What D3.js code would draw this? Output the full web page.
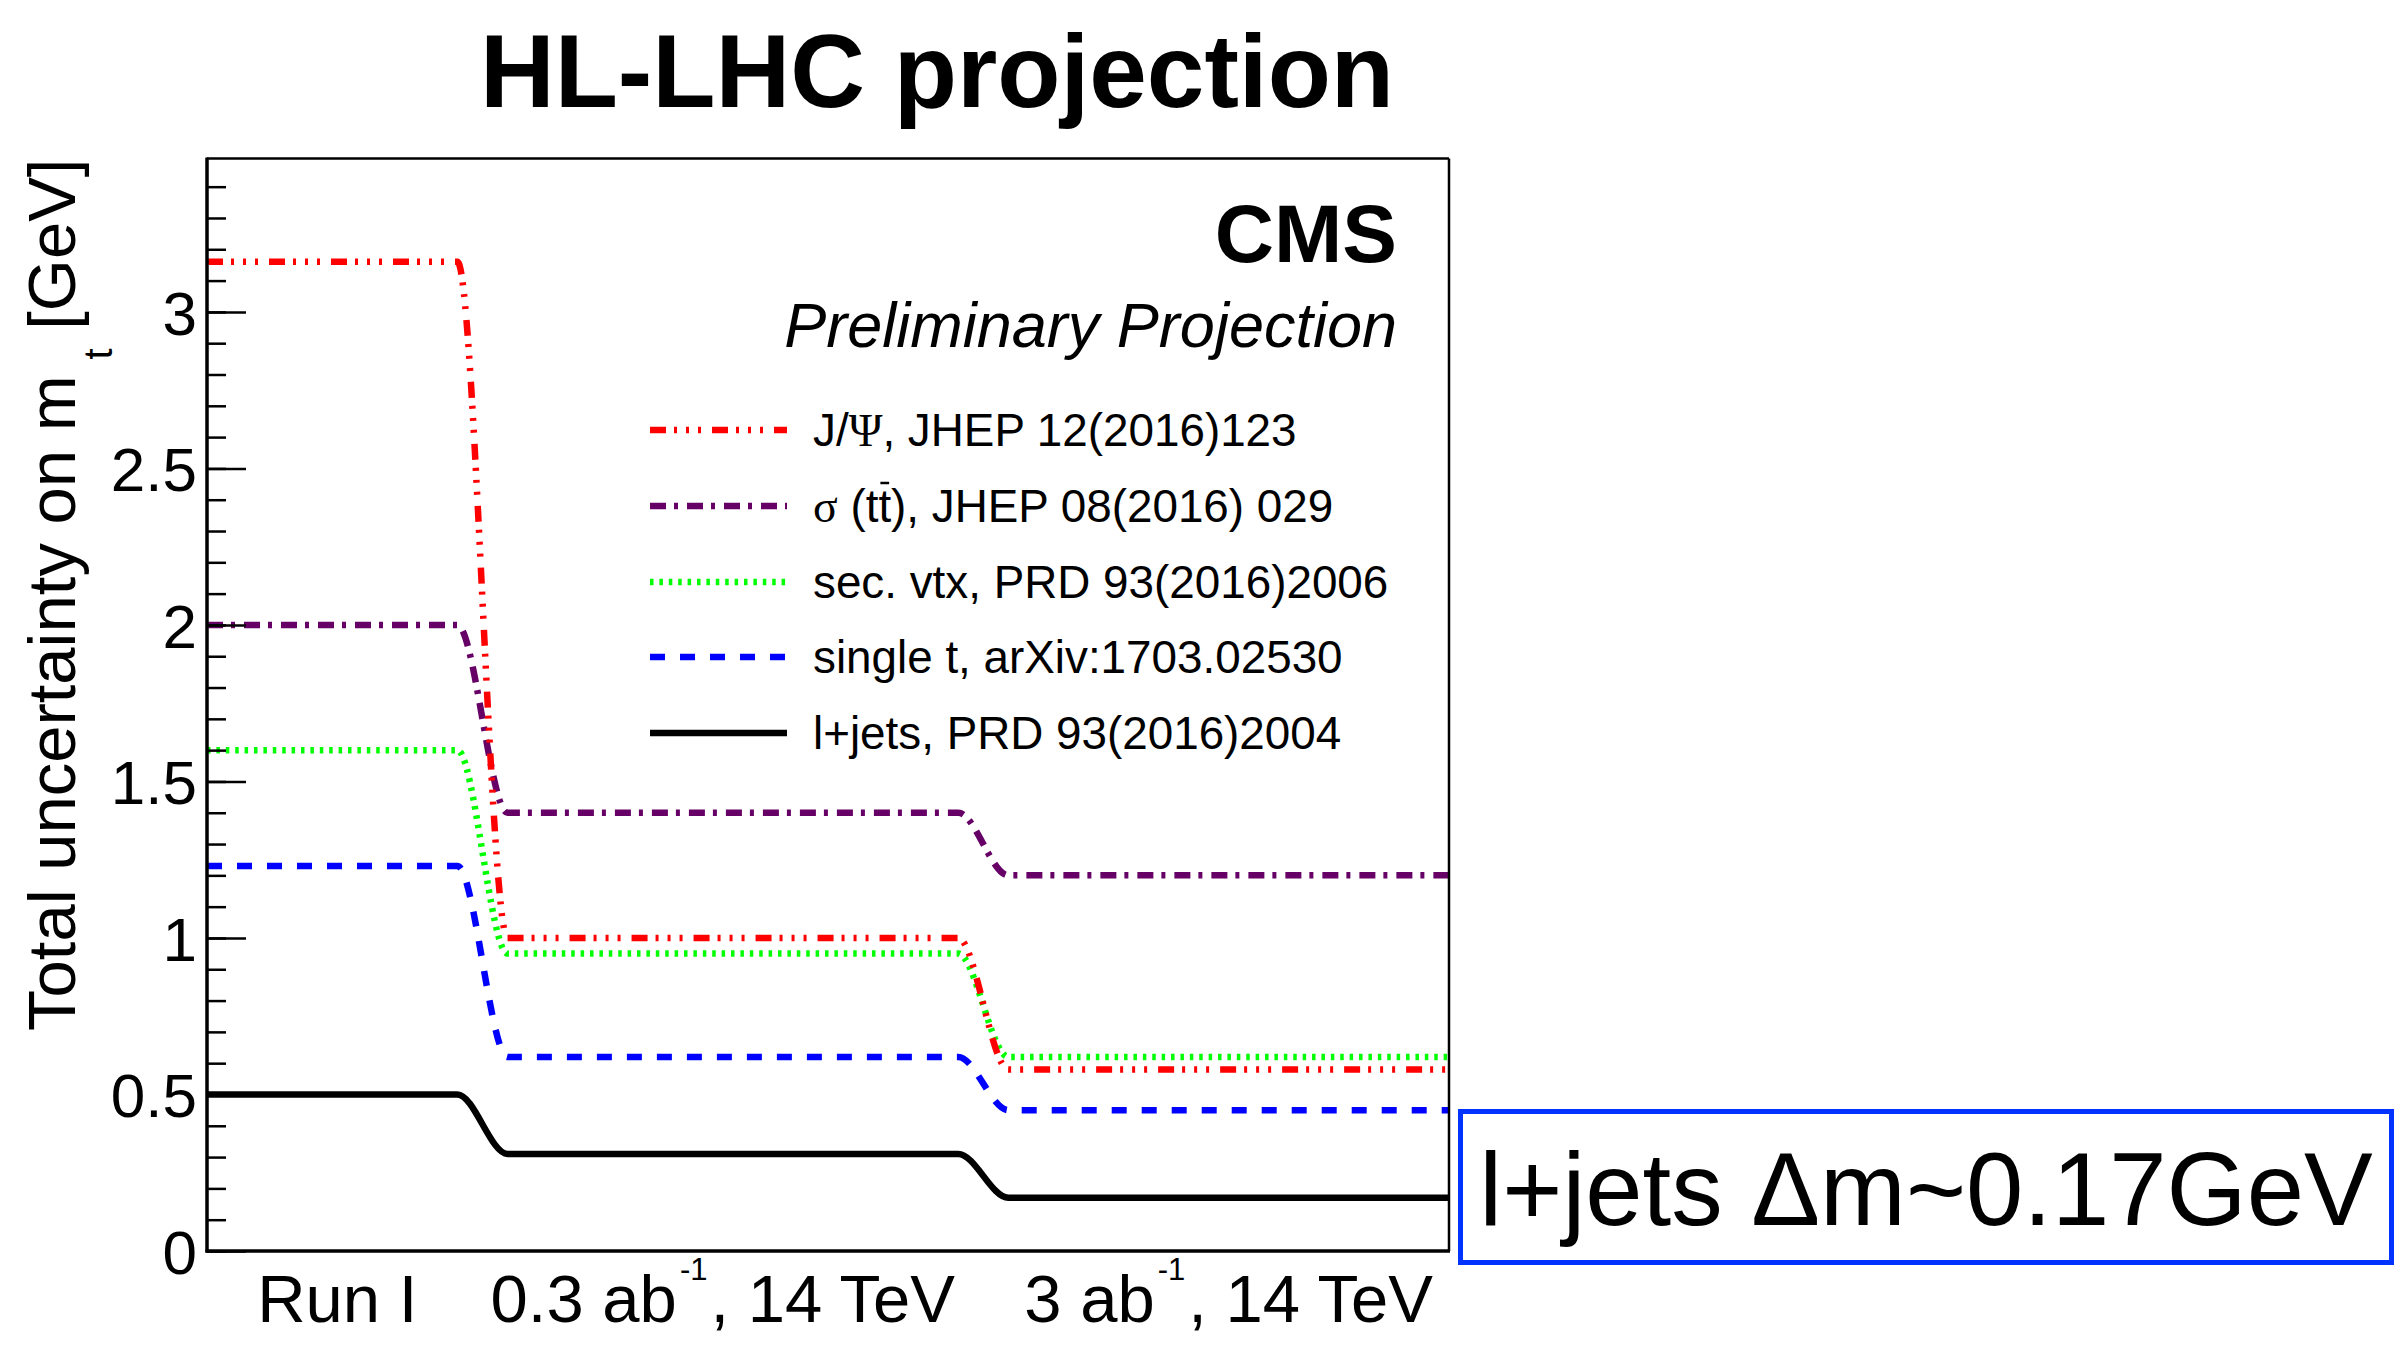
<!DOCTYPE html>
<html>
<head>
<meta charset="utf-8">
<script src="https://cdn.jsdelivr.net/npm/d3@7"></script>
<style>
  body { margin: 0; background: #fff; }
  svg { display: block; }
  text { font-family: "Liberation Sans", Arial, Helvetica, sans-serif; fill: #000; }
</style>
</head>
<body>
<svg id="chart" width="2407" height="1354"></svg>
<script>
// Data-taking stages and their x extent (graph abscissa units)
const stageLabels = [["Run I"], ["0.3 ab", "-1", ", 14 TeV"], ["3 ab", "-1", ", 14 TeV"]];
const stageLabelX = [0.26, 1.03, 2.04];
const stageStart = [0, 0.6, 1.6];
const stageEnd = [0.5, 1.5, 2.48];

// Total uncertainty on m_t [GeV] per stage, one array per measurement
const jpsiValues   = [3.16, 1.00, 0.58];
const xsecValues   = [2.00, 1.40, 1.20];
const secvtxValues = [1.60, 0.95, 0.62];
const singleTValues = [1.23, 0.62, 0.45];
const ljetsValues  = [0.50, 0.31, 0.17];

// Y axis ticks
const yMajorTicks = [0, 0.5, 1, 1.5, 2, 2.5, 3];
const yTickLabels = ["0", "0.5", "1", "1.5", "2", "2.5", "3"];
const yMinorTicks = d3.range(0, 35).map(i => i / 10);

const series = [
  { values: jpsiValues, color: "#ff0000", dash: "16,8,3,9,3,9,3,11",
    label: [{ t: "J/" }, { t: "\u03A8", serif: true }, { t: ", JHEP 12(2016)123" }] },
  { values: xsecValues, color: "#660066", dash: "16,8,4,9",
    label: [{ t: "\u03C3", serif: true }, { t: " (tt), JHEP 08(2016) 029" }], barChar: 4 },
  { values: secvtxValues, color: "#00ff00", dash: "3.5,5.9",
    label: [{ t: "sec. vtx, PRD 93(2016)2006" }] },
  { values: singleTValues, color: "#0000ff", dash: "15,15",
    label: [{ t: "single t, arXiv:1703.02530" }] },
  { values: ljetsValues, color: "#000000", dash: null,
    label: [{ t: "l+jets, PRD 93(2016)2004" }] }
];

const svg = d3.select("#chart");
const frame = { left: 207, right: 1449, top: 158.5, bottom: 1251 };

const x = d3.scaleLinear().domain([0, 2.48]).range([frame.left, frame.right]);
const y = d3.scaleLinear().domain([0, 3.49]).range([frame.bottom, frame.top]);

svg.append("rect").attr("width", 2407).attr("height", 1354).attr("fill", "#fff");

// Title
svg.append("text")
  .attr("x", 937).attr("y", 107)
  .attr("text-anchor", "middle")
  .attr("font-size", 103.5).attr("font-weight", "bold")
  .text("HL-LHC projection");

svg.append("clipPath").attr("id", "frameClip")
  .append("rect")
  .attr("x", frame.left).attr("y", frame.top)
  .attr("width", frame.right - frame.left).attr("height", frame.bottom - frame.top);

// Build graph points: plateau per stage, joined by smooth transitions
function graphPoints(values) {
  const pts = [];
  values.forEach((v, i) => {
    pts.push([stageStart[i], v]);
    pts.push([stageEnd[i], v]);
  });
  return pts;
}

const line = d3.line()
  .x(d => x(d[0]))
  .y(d => y(d[1]))
  .curve(d3.curveMonotoneX);

const plot = svg.append("g").attr("clip-path", "url(#frameClip)");
series.slice().reverse().forEach(s => {
  plot.append("path")
    .attr("d", line(graphPoints(s.values)))
    .attr("fill", "none")
    .attr("stroke", s.color)
    .attr("stroke-width", 6.5)
    .attr("stroke-dasharray", s.dash)
    .attr("stroke-linejoin", "round");
});

// Y axis: minor and major ticks pointing into the frame
const yMinor = d3.axisLeft(y).tickValues(yMinorTicks).tickSizeInner(-19).tickSizeOuter(0).tickFormat("");
const yMajor = d3.axisLeft(y).tickValues(yMajorTicks).tickSizeInner(-39).tickSizeOuter(0)
  .tickPadding(10).tickFormat((d, i) => yTickLabels[i]);

const gMinor = svg.append("g").attr("transform", `translate(${frame.left},0)`).call(yMinor);
gMinor.select(".domain").remove();
gMinor.selectAll(".tick line").attr("stroke", "#000").attr("stroke-width", 2.5);

const gMajor = svg.append("g").attr("transform", `translate(${frame.left},0)`).call(yMajor);
gMajor.select(".domain").remove();
gMajor.selectAll(".tick line").attr("stroke", "#000").attr("stroke-width", 2.5);
gMajor.selectAll(".tick text")
  .attr("font-size", 62)
  .attr("font-family", "\"Liberation Sans\", Arial, Helvetica, sans-serif")
  .attr("fill", "#000")
  .attr("dy", "0.36em");

// Frame
svg.append("line").attr("x1", frame.left).attr("x2", frame.right)
  .attr("y1", frame.top).attr("y2", frame.top).attr("stroke", "#000").attr("stroke-width", 2.5);
svg.append("line").attr("x1", frame.right).attr("x2", frame.right)
  .attr("y1", frame.top).attr("y2", frame.bottom).attr("stroke", "#000").attr("stroke-width", 2.5);
svg.append("line").attr("x1", frame.left).attr("x2", frame.left)
  .attr("y1", frame.top - 1).attr("y2", frame.bottom + 1.5).attr("stroke", "#000").attr("stroke-width", 3.5);
svg.append("line").attr("x1", frame.left - 1.5).attr("x2", frame.right + 1)
  .attr("y1", frame.bottom).attr("y2", frame.bottom).attr("stroke", "#000").attr("stroke-width", 3.5);

// X stage labels
stageLabels.forEach((parts, i) => {
  const t = svg.append("text")
    .attr("x", x(stageLabelX[i])).attr("y", 1322)
    .attr("text-anchor", "middle")
    .attr("font-size", 67);
  t.append("tspan").text(parts[0]);
  if (parts.length > 1) {
    t.append("tspan").attr("font-size", 31).attr("dx", 3).attr("dy", -42).text(parts[1]);
    t.append("tspan").attr("font-size", 67).attr("dx", 3).attr("dy", 42).text(parts[2]);
  }
});

// Y axis title, right-aligned at the top of the axis
const yTitle = svg.append("text")
  .attr("transform", `translate(75,${frame.top}) rotate(-90)`)
  .attr("text-anchor", "end")
  .attr("font-size", 67);
yTitle.append("tspan").text("Total uncertainty on m");
yTitle.append("tspan").attr("font-size", 40).attr("dx", 16).attr("dy", 37).text("t");
yTitle.append("tspan").attr("font-size", 67).attr("dy", -37).text(" [GeV]");

// CMS labels
svg.append("text")
  .attr("x", 1397).attr("y", 262)
  .attr("text-anchor", "end")
  .attr("font-size", 82).attr("font-weight", "bold")
  .text("CMS");
svg.append("text")
  .attr("x", 1397).attr("y", 347)
  .attr("text-anchor", "end")
  .attr("font-size", 63).attr("font-style", "italic")
  .text("Preliminary Projection");

// Legend
const legendY = [430, 506, 582, 657, 733];
series.forEach((s, i) => {
  const ly = legendY[i];
  svg.append("line")
    .attr("x1", 650).attr("x2", 787)
    .attr("y1", ly).attr("y2", ly)
    .attr("stroke", s.color).attr("stroke-width", 6.5)
    .attr("stroke-dasharray", s.dash);
  const t = svg.append("text")
    .attr("x", 813).attr("y", ly + 16)
    .attr("font-size", 45.8);
  s.label.forEach(p => {
    const sp = t.append("tspan").text(p.t);
    if (p.serif) sp.attr("font-family", "\"Liberation Serif\", \"DejaVu Serif\", serif");
  });
  if (s.barChar !== undefined) {
    const r = t.node().getExtentOfChar(s.barChar);
    svg.append("line")
      .attr("x1", r.x + 2).attr("x2", r.x + r.width - 2)
      .attr("y1", r.y + 2).attr("y2", r.y + 2)
      .attr("stroke", "#000").attr("stroke-width", 2.5);
  }
});

// Highlighted l+jets precision
svg.append("rect")
  .attr("x", 1460.5).attr("y", 1111.5)
  .attr("width", 931).attr("height", 151)
  .attr("fill", "none").attr("stroke", "#0033ff").attr("stroke-width", 5);
svg.append("text")
  .attr("x", 1926).attr("y", 1225)
  .attr("text-anchor", "middle")
  .attr("font-size", 103)
  .text("l+jets \u0394m~" + ljetsValues[2].toFixed(2) + "GeV");
</script>
</body>
</html>
